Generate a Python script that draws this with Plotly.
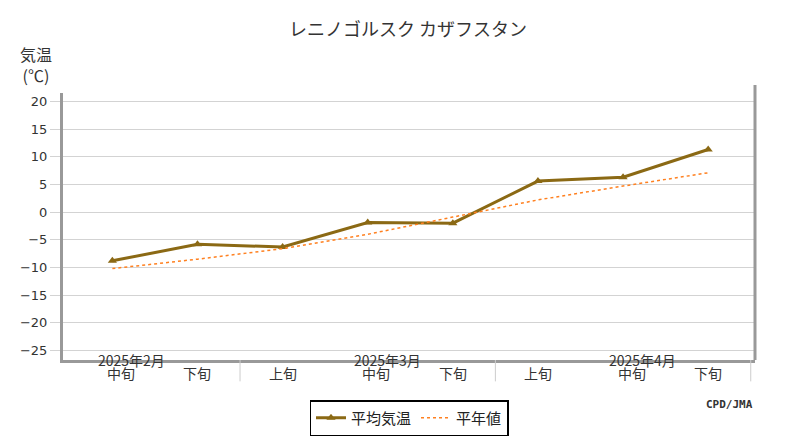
import plotly.graph_objects as go

FONT = "Noto Sans CJK JP"

periods = ["中旬", "下旬", "上旬", "中旬", "下旬", "上旬", "中旬", "下旬"]
months = ["2025年2月", "2025年3月", "2025年4月"]
month_pos = [0, 3, 6]
mean_temp = [-8.8, -5.8, -6.3, -1.9, -2.0, 5.6, 6.3, 11.3]
normal_temp = [-10.2, -8.5, -6.6, -4.0, -0.9, 2.2, 4.7, 7.1]
yticks = [20, 15, 10, 5, 0, -5, -10, -15, -20, -25]

x = list(range(len(periods)))

fig = go.Figure()
fig.add_trace(go.Scatter(
    x=x, y=mean_temp, mode="lines+markers", name="平均気温",
    line=dict(color="#8B6914", width=3),
    marker=dict(symbol="triangle-up", size=8, color="#8B6914"),
))
fig.add_trace(go.Scatter(
    x=x, y=normal_temp, mode="lines", name="平年値",
    line=dict(color="#FF8020", width=1.5, dash="dot"),
))

# period labels and month labels
for i, p in enumerate(periods):
    fig.add_annotation(x=i + 0.1 if i in month_pos else i, y=0, yref="paper", yshift=-25,
                       text=p, showarrow=False,
                       font=dict(family=FONT, size=14, color="#333"))
for m, pos in zip(months, month_pos):
    fig.add_annotation(x=pos + 0.23, y=0, yref="paper", yshift=-12, text=m,
                       showarrow=False, font=dict(family=FONT, size=14, color="#333"))
# month separators below the axis
for sep in [1.5, 4.5, 7.5]:
    fig.add_shape(type="line", xref="x", yref="paper", x0=sep, x1=sep, y0=0, y1=-0.08,
                  line=dict(color="#ccc", width=1))
# right border
fig.add_shape(type="line", xref="paper", yref="paper", x0=1, x1=1, y0=0, y1=1.03,
              line=dict(color="#999", width=3))

fig.add_annotation(x=-0.065, y=1.2, xref="paper", yref="paper", xanchor="left",
                   yanchor="top", text="気温<br>(℃)", showarrow=False, align="center",
                   font=dict(family=FONT, size=16, color="#333"))
fig.add_annotation(x=1.0, y=-0.2, xref="paper", yref="paper", xanchor="right",
                   text="<b>CPD/JMA</b>", showarrow=False,
                   font=dict(family="DejaVu Sans Mono", size=11, color="#333"))

fig.update_layout(
    width=800, height=440,
    title=dict(text="レニノゴルスク カザフスタン", x=0.5, y=0.965,
               font=dict(family=FONT, size=18, color="#333")),
    plot_bgcolor="white", paper_bgcolor="white",
    margin=dict(l=50, r=53, t=85, b=69),
    showlegend=True,
    legend=dict(orientation="h", x=0.5, xanchor="center", y=-0.15, yanchor="top",
                bordercolor="black", borderwidth=1.5,
                font=dict(family=FONT, size=15, color="#222")),
    xaxis=dict(range=[-0.58, 7.55], showticklabels=False, showgrid=False, zeroline=False,
               showline=True, linecolor="#999", linewidth=3),
    yaxis=dict(range=[-26.7, 21.5], tickvals=yticks, gridcolor="#d3d3d3", zeroline=False,
               showline=True, linecolor="#999", linewidth=3, ticks="outside",
               tickcolor="#d3d3d3", ticklen=10,
               tickfont=dict(family="DejaVu Sans", size=13, color="#333")),
)
fig.write_html("out.html")
